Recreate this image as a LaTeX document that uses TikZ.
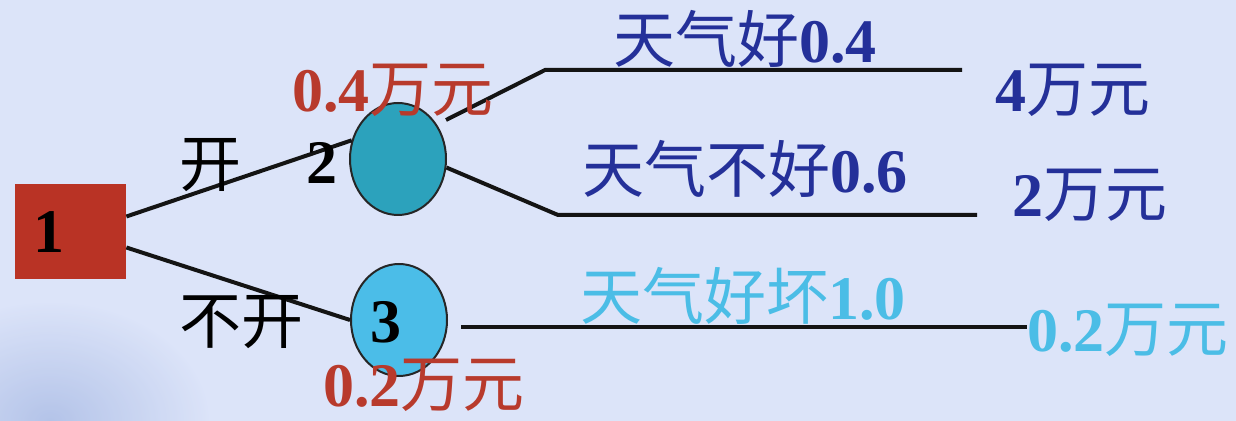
\documentclass[tikz,border=0pt]{standalone}
\usepackage{fontspec}
\setmainfont{Liberation Serif}
\newfontfamily\cjk{Noto Sans CJK SC}
\usetikzlibrary{shapes.geometric,calc}
\definecolor{bgc}{HTML}{DCE4F9}
\definecolor{bgdark}{HTML}{A3B6E2}
\definecolor{sqred}{HTML}{B93325}
\definecolor{txtred}{HTML}{B83A2C}
\definecolor{dblue}{HTML}{243099}
\definecolor{lblue}{HTML}{4BBDE6}
\definecolor{teal2}{HTML}{2CA2BC}
\definecolor{sky3}{HTML}{4BBDE8}
\begin{document}
\begin{tikzpicture}[x=0.5pt,y=-0.5pt,
  big/.style={font=\fontsize{31}{31}\selectfont, inner sep=0pt},
  chance/.style={ellipse, draw=black!85, line width=1pt, minimum width=48pt, minimum height=56pt, inner sep=0pt},
  branch/.style={line width=2pt, black!92},
]
\fill[bgc] (0,0) rectangle (1236,421);
\begin{scope}
\clip (0,0) rectangle (1236,421);
\shade[inner color=bgdark, outer color=bgc, opacity=0.7] (50,421) ellipse (160 and 120);
\end{scope}
\useasboundingbox (0,0) rectangle (1236,421);

% decision node
\node[rectangle, fill=sqred, minimum width=55.5pt, minimum height=47.5pt, inner sep=0pt] (n1) at (70.5,231.5) {};
\node[big, font=\fontsize{31}{31}\selectfont\bfseries] (l1) at (49,232) {1};

% chance nodes
\node[chance, fill=teal2] (n2) at (398,159) {};
\node[chance, fill=sky3] (n3) at (399,320) {};

% coordinates for branches
\coordinate (s2a) at (446,120);
\coordinate (b1) at (545,70);
\coordinate (e1) at (962,70);
\coordinate (b2) at (558,215);
\coordinate (e2) at (977,215);
\coordinate (s3) at (461,327);
\coordinate (e3) at (1027,327);

% connectors
\draw[branch] ($(n1.east)+(0,-15)$) -- (n2.158);
\draw[branch] ($(n1.east)+(0,16)$) -- (n3.west);
\draw[branch] (s2a) -- (b1) -- (e1);
\draw[branch] (n2.-10) -- (b2) -- (e2);
\draw[branch] (s3) -- (e3);

% labels
\node[big] (k1) at (210,165) {\cjk 开};
\node[big] (k2) at (241,322) {\cjk 不开};
\node[big, font=\fontsize{31}{31}\selectfont\bfseries] (l2) at (322,163) {2};
\node[big, font=\fontsize{31}{31}\selectfont\bfseries] (l3) at (386,322) {3};

\node[big, anchor=base west, text=txtred] (v2) at (292,112) {\textbf{0.4}{\cjk 万元}};
\node[big, anchor=base west, text=txtred] (v3) at (323,407) {\textbf{0.2}{\cjk 万元}};

\node[big, anchor=base west, text=dblue] (p1) at (613,63) {{\cjk 天气好}\textbf{0.4}};
\node[big, anchor=base west, text=dblue] (p2) at (582,193) {{\cjk 天气不好}\textbf{0.6}};
\node[big, anchor=base west, text=lblue] (p3) at (580,320) {{\cjk 天气好坏}\textbf{1.0}};

\node[big, anchor=base west, text=dblue] (r1) at (995,112) {\textbf{4}{\cjk 万元}};
\node[big, anchor=base west, text=dblue] (r2) at (1012,217) {\textbf{2}{\cjk 万元}};
\node[big, anchor=base west, text=lblue] (r3) at (1027,352) {\textbf{0.2}{\cjk 万元}};
\end{tikzpicture}
\end{document}
